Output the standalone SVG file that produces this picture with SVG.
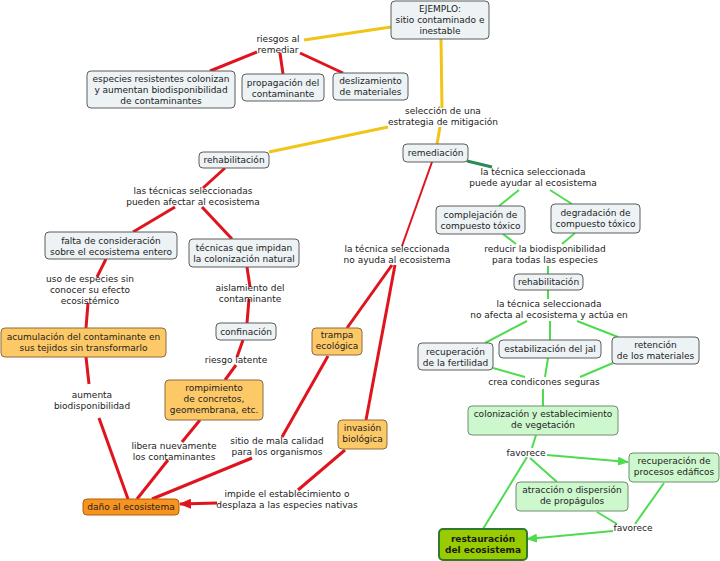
<svg xmlns="http://www.w3.org/2000/svg" width="720" height="561" viewBox="0 0 720 561">
<style>
text{font-family:"DejaVu Sans",Verdana,sans-serif;font-size:9px;fill:#222;text-anchor:middle}
.n{fill:#edf2f5;stroke:#5c5c5c;stroke-width:1}
.o{fill:#fdc967;stroke:#8c6d3b;stroke-width:1}
.d{fill:#f7931e;stroke:#b35f00;stroke-width:1}
.g{fill:#cdf7cd;stroke:#6e8f6e;stroke-width:1}
.r{fill:#99cc00;stroke:#2f7a2f;stroke-width:2}
.b{font-weight:bold;fill:#1a1a1a}
.ly{stroke:#f2c417;stroke-width:3;fill:none}
.lr{stroke:#e0141e;stroke-width:3;fill:none}
.lr2{stroke:#e0141e;stroke-width:2;fill:none}
.lg{stroke:#4ddc4d;stroke-width:2;fill:none}
.ldg{stroke:#2e8b57;stroke-width:3;fill:none}
</style>
<defs>
<marker id="ar" markerUnits="userSpaceOnUse" markerWidth="12" markerHeight="10" refX="11" refY="5" orient="auto"><path d="M0,0 L12,5 L0,10 z" fill="#e0141e"/></marker>
<marker id="ag" markerUnits="userSpaceOnUse" markerWidth="11" markerHeight="9" refX="10" refY="4.5" orient="auto"><path d="M0,0 L11,4.5 L0,9 z" fill="#4ddc4d"/></marker>
</defs>
<rect width="720" height="561" fill="#fff"/>
<g id="connectors">
<line class="ly" x1="304" y1="40" x2="391" y2="27"/>
<line class="ly" x1="441" y1="39" x2="442" y2="108"/>
<line class="ly" x1="388" y1="127" x2="269" y2="152"/>
<line class="ly" x1="440" y1="127" x2="437" y2="144"/>
<line class="lr" x1="257" y1="52" x2="210" y2="71"/>
<line class="lr" x1="280" y1="53" x2="283" y2="74"/>
<line class="lr" x1="300" y1="53" x2="343" y2="73"/>
<line class="lr" x1="225" y1="168" x2="203" y2="188"/>
<line class="lr" x1="175" y1="207" x2="133" y2="232"/>
<line class="lr" x1="202" y1="207" x2="232" y2="239"/>
<line class="lr" x1="106" y1="259" x2="97" y2="277"/>
<line class="lr" x1="88" y1="303" x2="86" y2="328"/>
<line class="lr" x1="247" y1="267" x2="250" y2="287"/>
<line class="lr" x1="249" y1="299" x2="247" y2="323"/>
<line class="lr" x1="243" y1="340" x2="237" y2="357"/>
<line class="lr" x1="236" y1="365" x2="225" y2="380"/>
<line class="lr" x1="86" y1="357" x2="89" y2="384"/>
<line class="lr" x1="99" y1="418" x2="128" y2="499"/>
<line class="lr" x1="200" y1="420" x2="182" y2="442"/>
<line class="lr" x1="168" y1="460" x2="137" y2="499"/>
<line class="lr2" x1="432" y1="162" x2="402" y2="246"/>
<line class="lr" x1="392" y1="265" x2="347" y2="328"/>
<line class="lr" x1="395" y1="265" x2="366" y2="420"/>
<line class="lr" x1="328" y1="356" x2="282" y2="437"/>
<line class="lr" x1="252" y1="458" x2="152" y2="499"/>
<line class="lr" x1="345" y1="450" x2="298" y2="490"/>
<line class="lr" x1="217" y1="503" x2="180" y2="504" marker-end="url(#ar)"/>
<line class="ldg" x1="467" y1="161" x2="492" y2="167"/>
<line class="lg" x1="519" y1="190" x2="499" y2="206"/>
<line class="lg" x1="550" y1="190" x2="572" y2="204"/>
<line class="lg" x1="503" y1="234" x2="516" y2="244"/>
<line class="lg" x1="575" y1="233" x2="562" y2="244"/>
<line class="lg" x1="548" y1="266" x2="548" y2="274"/>
<line class="lg" x1="548" y1="290" x2="548" y2="299"/>
<line class="lg" x1="527" y1="321" x2="485" y2="343"/>
<line class="lg" x1="550" y1="321" x2="550" y2="340"/>
<line class="lg" x1="577" y1="321" x2="618" y2="337"/>
<line class="lg" x1="493" y1="368" x2="525" y2="377"/>
<line class="lg" x1="548" y1="358" x2="545" y2="377"/>
<line class="lg" x1="613" y1="363" x2="580" y2="377"/>
<line class="lg" x1="543" y1="389" x2="543" y2="406"/>
<line class="lg" x1="536" y1="435" x2="532" y2="448"/>
<line class="lg" x1="547" y1="455" x2="628" y2="462" marker-end="url(#ag)"/>
<line class="lg" x1="530" y1="458" x2="557" y2="482"/>
<line class="lg" x1="527" y1="457" x2="483" y2="529"/>
<line class="lg" x1="664" y1="483" x2="635" y2="524"/>
<line class="lg" x1="597" y1="512" x2="617" y2="524"/>
<line class="lg" x1="613" y1="531" x2="527" y2="539" marker-end="url(#ag)"/>
</g>
<g id="ejemplo"><rect class="n" x="391" y="1" width="98" height="38" rx="4"/><text x="440" y="11.5">EJEMPLO:</text><text x="440" y="22.5">sitio contaminado e</text><text x="440" y="33.5">inestable</text></g>
<g id="riesgos"><text x="278" y="42">riesgos al</text><text x="278" y="53">remediar</text></g>
<g id="especies"><rect class="n" x="87" y="71" width="148" height="37" rx="4"/><text x="161" y="82">especies resistentes colonizan</text><text x="161" y="93">y aumentan biodisponibilidad</text><text x="161" y="104">de contaminantes</text></g>
<g id="propagacion"><rect class="n" x="242" y="74" width="82" height="27" rx="4"/><text x="283" y="86">propagación del</text><text x="283" y="97">contaminante</text></g>
<g id="deslizamiento"><rect class="n" x="333" y="73" width="75" height="27" rx="4"/><text x="370.5" y="84">deslizamiento</text><text x="370.5" y="95">de materiales</text></g>
<g id="seleccion"><text x="443" y="114">selección de una</text><text x="443" y="125">estrategia de mitigación</text></g>
<g id="rehab1"><rect class="n" x="199" y="152" width="70" height="16" rx="4"/><text x="234" y="163">rehabilitación</text></g>
<g id="remediacion"><rect class="n" x="403" y="144" width="65" height="18" rx="4"/><text x="435.5" y="156">remediación</text></g>
<g id="puede"><text x="533" y="175">la técnica seleccionada</text><text x="533" y="186">puede ayudar al ecosistema</text></g>
<g id="pueden"><text x="193" y="194">las técnicas seleccionadas</text><text x="193" y="205">pueden afectar al ecosistema</text></g>
<g id="falta"><rect class="n" x="45" y="232" width="132" height="27" rx="4"/><text x="111" y="244">falta de consideración</text><text x="111" y="255">sobre el ecosistema entero</text></g>
<g id="tecnicas"><rect class="n" x="189" y="239" width="110" height="28" rx="4"/><text x="244" y="251">técnicas que impidan</text><text x="244" y="262">la colonización natural</text></g>
<g id="noayuda"><text x="397" y="252">la técnica seleccionada</text><text x="397" y="263">no ayuda al ecosistema</text></g>
<g id="complejacion"><rect class="n" x="436" y="206" width="89" height="28" rx="4"/><text x="480.5" y="218">complejación de</text><text x="480.5" y="229">compuesto tóxico</text></g>
<g id="degradacion"><rect class="n" x="551" y="204" width="89" height="29" rx="4"/><text x="595.5" y="216">degradación de</text><text x="595.5" y="227">compuesto tóxico</text></g>
<g id="reducir"><text x="545" y="252">reducir la biodisponibilidad</text><text x="545" y="263">para todas las especies</text></g>
<g id="rehab2"><rect class="n" x="514" y="274" width="69" height="16" rx="4"/><text x="548.5" y="285">rehabilitación</text></g>
<g id="noafecta"><text x="549" y="307">la técnica seleccionada</text><text x="549" y="318">no afecta al ecosistema y actúa en</text></g>
<g id="fertilidad"><rect class="n" x="418" y="343" width="75" height="27" rx="4"/><text x="455.5" y="355">recuperación</text><text x="455.5" y="366">de la fertilidad</text></g>
<g id="estabilizacion"><rect class="n" x="499" y="340" width="102" height="18" rx="4"/><text x="550" y="352">estabilización del jal</text></g>
<g id="retencion"><rect class="n" x="612" y="337" width="87" height="27" rx="4"/><text x="655.5" y="348">retención</text><text x="655.5" y="359">de los materiales</text></g>
<g id="crea"><text x="544" y="385">crea condicones seguras</text></g>
<g id="uso"><text x="90" y="282">uso de especies sin</text><text x="90" y="293">conocer su efecto</text><text x="90" y="304">ecosistémico</text></g>
<g id="aislamiento"><text x="250" y="291">aislamiento del</text><text x="250" y="302">contaminante</text></g>
<g id="acumulacion"><rect class="o" x="1" y="328" width="165" height="29" rx="4"/><text x="83.5" y="340">acumulación del contaminante en</text><text x="83.5" y="351">sus tejidos sin transformarlo</text></g>
<g id="confinacion"><rect class="n" x="216" y="323" width="60" height="17" rx="4"/><text x="246" y="335">confinación</text></g>
<g id="trampa"><rect class="o" x="312" y="328" width="50" height="27" rx="4"/><text x="337" y="338">trampa</text><text x="337" y="349">ecológica</text></g>
<g id="riesgolatente"><text x="236" y="363">riesgo latente</text></g>
<g id="aumenta"><text x="92" y="398">aumenta</text><text x="92" y="409">biodisponibilidad</text></g>
<g id="rompimiento"><rect class="o" x="165" y="380" width="98" height="40" rx="4"/><text x="214" y="391">rompimiento</text><text x="214" y="402">de concretos,</text><text x="214" y="413">geomembrana, etc.</text></g>
<g id="invasion"><rect class="o" x="338" y="420" width="49" height="29" rx="4"/><text x="362.5" y="431">invasión</text><text x="362.5" y="442">biológica</text></g>
<g id="libera"><text x="174" y="449">libera nuevamente</text><text x="174" y="460">los contaminantes</text></g>
<g id="sitio"><text x="277" y="444">sitio de mala calidad</text><text x="277" y="455">para los organismos</text></g>
<g id="impide"><text x="287" y="497">impide el establecimiento o</text><text x="287" y="508">desplaza a las especies nativas</text></g>
<g id="dano"><rect class="d" x="83" y="499" width="96" height="16" rx="4"/><text x="131" y="510">daño al ecosistema</text></g>
<g id="colonizacion"><rect class="g" x="468" y="406" width="150" height="29" rx="4"/><text x="543" y="417">colonización y establecimiento</text><text x="543" y="428">de vegetación</text></g>
<g id="favorece1"><text x="526" y="456">favorece</text></g>
<g id="edaficos"><rect class="g" x="629" y="453" width="90" height="29" rx="4"/><text x="674" y="464">recuperación de</text><text x="674" y="475">procesos edáficos</text></g>
<g id="atraccion"><rect class="g" x="516" y="482" width="112" height="29" rx="4"/><text x="572" y="493">atracción o dispersión</text><text x="572" y="504">de propágulos</text></g>
<g id="favorece2"><text x="633" y="531">favorece</text></g>
<g id="restauracion"><rect class="r" x="439" y="529" width="88" height="31" rx="4"/><text class="b" x="483" y="542">restauración</text><text class="b" x="483" y="553">del ecosistema</text></g>
</svg>
